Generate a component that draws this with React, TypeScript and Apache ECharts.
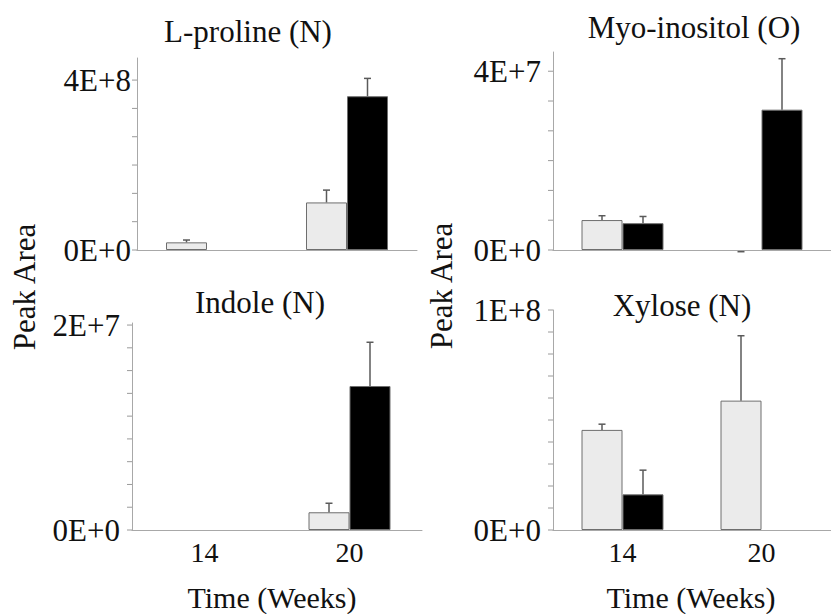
import React, { useEffect, useRef } from 'react';
import * as echarts from 'echarts';

// ---------- data ----------
const categories = ['14', '20'];
const panelTitles = ['L-proline (N)', 'Myo-inositol (O)', 'Indole (N)', 'Xylose (N)'];

// light (grey) series mean and error, dark (black) series mean and error
const prolineLight = [1.8e7, 1.12e8];
const prolineLightErr = [5.5e6, 2.9e7];
const prolineDark = [null, 3.62e8];
const prolineDarkErr = [null, 4.2e7];

const inositolLight = [6.7e6, null];
const inositolLightErr = [9.7e5, null];
const inositolLightZeroMark = [null, -3.8e5];
const inositolDark = [6.0e6, 3.14e7];
const inositolDarkErr = [1.5e6, 1.14e7];

const indoleLight = [null, 1.73e6];
const indoleLightErr = [null, 8.8e5];
const indoleDark = [null, 1.405e7];
const indoleDarkErr = [null, 4.27e6];

const xyloseLight = [4.55e7, 5.88e7];
const xyloseLightErr = [2.6e6, 2.95e7];
const xyloseDark = [1.62e7, null];
const xyloseDarkErr = [1.1e7, null];

const yMax = [4.52e8, 4.43e7, 2.02e7, 1e8];
const yMajorValues = [[0, 4e8], [0, 4e7], [0, 2e7], [0, 1e8]];
const yMajorLabels = [['0E+0', '4E+8'], ['0E+0', '4E+7'], ['0E+0', '2E+7'], ['0E+0', '1E+8']];
const yMinorCount = [6, 6, 9, 10];

const yAxisTitle = 'Peak Area';
const xAxisTitle = 'Time (Weeks)';

// ---------- layout ----------
const grids = [
  { left: 137, top: 58, width: 280, height: 192 },
  { left: 553, top: 52, width: 288, height: 198 },
  { left: 132, top: 323, width: 290, height: 207 },
  { left: 553, top: 310, width: 288, height: 220 },
];
const labelMargins = [6, 12, 12, 12];
const titlePos = [
  [248, 31],
  [694, 27],
  [260, 302],
  [682, 305],
];

const FONT = 'Liberation Serif';
const TEXT = '#111';
const AXIS = '#a8a8a8';
const TICK = '#9a9a9a';
const BAR_W = 41;

const panels = [
  { light: prolineLight, lightErr: prolineLightErr, dark: prolineDark, darkErr: prolineDarkErr, extraLight: null },
  { light: inositolLight, lightErr: inositolLightErr, dark: inositolDark, darkErr: inositolDarkErr, extraLight: inositolLightZeroMark },
  { light: indoleLight, lightErr: indoleLightErr, dark: indoleDark, darkErr: indoleDarkErr, extraLight: null },
  { light: xyloseLight, lightErr: xyloseLightErr, dark: xyloseDark, darkErr: xyloseDarkErr, extraLight: null },
];

function errData(vals: (number | null)[], errs: (number | null)[], extra: (number | null)[] | null) {
  const out: number[][] = [];
  vals.forEach((v, i) => {
    if (v !== null && errs[i] !== null) out.push([i, v, errs[i] as number]);
    else if (extra && extra[i] !== null) out.push([i, extra[i] as number, 0]);
  });
  return out;
}

function errSeries(idx: number, data: number[][], offset: number) {
  return {
    type: 'custom',
    xAxisIndex: idx,
    yAxisIndex: idx,
    z: 5,
    encode: { x: 0, y: 1 },
    data,
    renderItem: (_params: any, api: any) => {
      const cat = api.value(0);
      const v = api.value(1);
      const e = api.value(2);
      const base = api.coord([cat, v]);
      const top = api.coord([cat, v + e]);
      const x = base[0] + offset;
      const st = { stroke: '#5a5a5a', lineWidth: 1.5 };
      return {
        type: 'group',
        children: [
          { type: 'line', shape: { x1: x, y1: base[1], x2: x, y2: top[1] }, style: st },
          { type: 'line', shape: { x1: x - 3.5, y1: top[1], x2: x + 3.5, y2: top[1] }, style: st },
        ],
      };
    },
  };
}

function tickSeries(idx: number) {
  const step = yMajorValues[idx][1] / yMinorCount[idx];
  const data = Array.from({ length: yMinorCount[idx] + 1 }, (_, k) => [0, k * step]);
  return {
    type: 'custom',
    xAxisIndex: idx,
    yAxisIndex: idx,
    z: 6,
    silent: true,
    clip: false,
    encode: { x: 0, y: 1 },
    data,
    renderItem: (_params: any, api: any) => {
      const p = api.coord([0, api.value(1)]);
      const band = api.size([1, 0])[0];
      const x0 = p[0] - band / 2;
      return {
        type: 'line',
        shape: { x1: x0 - 5, y1: p[1], x2: x0, y2: p[1] },
        style: { stroke: TICK, lineWidth: 1 },
      };
    },
  };
}

export default function App() {
  const ref = useRef<HTMLDivElement>(null);
  useEffect(() => {
    if (!ref.current) return;
    const chart = echarts.init(ref.current, null, { renderer: 'svg' });

    const xAxis = grids.map((_, i) => ({
      type: 'category',
      gridIndex: i,
      data: categories,
      axisLine: { lineStyle: { color: AXIS, width: 1 } },
      axisTick: { show: false },
      axisLabel: {
        show: i >= 2,
        fontFamily: FONT,
        fontSize: 28,
        color: TEXT,
        margin: 8,
      },
    }));

    const yAxis = grids.map((_, i) => ({
      type: 'value',
      gridIndex: i,
      min: 0,
      max: yMax[i],
      splitLine: { show: false },
      axisLine: { show: true, lineStyle: { color: AXIS, width: 1 } },
      axisTick: { show: false },
      axisLabel: {
        customValues: yMajorValues[i],
        fontFamily: FONT,
        fontSize: 31,
        color: TEXT,
        margin: labelMargins[i],
        formatter: (val: number) => {
          const k = yMajorValues[i].findIndex((m) => Math.abs(m - val) < yMajorValues[i][1] * 1e-6);
          return k >= 0 ? yMajorLabels[i][k] : '';
        },
      },
    }));

    const series: any[] = [];
    panels.forEach((p, i) => {
      series.push({
        type: 'bar',
        xAxisIndex: i,
        yAxisIndex: i,
        data: p.light,
        barWidth: BAR_W,
        barGap: '0%',
        itemStyle: { color: '#ebebeb', borderColor: '#6e6e6e', borderWidth: 1 },
      });
      series.push({
        type: 'bar',
        xAxisIndex: i,
        yAxisIndex: i,
        data: p.dark,
        barWidth: BAR_W,
        barGap: '0%',
        itemStyle: { color: '#000000', borderColor: '#6e6e6e', borderWidth: 1 },
      });
      series.push(errSeries(i, errData(p.light, p.lightErr, p.extraLight), -BAR_W / 2));
      series.push(errSeries(i, errData(p.dark, p.darkErr, null), BAR_W / 2));
      series.push(tickSeries(i));
    });

    const textStyle = (s: string, size: number) => ({
      text: s,
      fill: TEXT,
      fontFamily: FONT,
      fontSize: size,
      align: 'center',
      verticalAlign: 'middle',
    });

    const graphic: any[] = [];
    panelTitles.forEach((t, i) => {
      graphic.push({ type: 'text', x: titlePos[i][0], y: titlePos[i][1], style: textStyle(t, 31) });
    });
    graphic.push({ type: 'text', x: 24, y: 287, rotation: Math.PI / 2, style: textStyle(yAxisTitle, 31) });
    graphic.push({ type: 'text', x: 441, y: 286, rotation: Math.PI / 2, style: textStyle(yAxisTitle, 31) });
    graphic.push({ type: 'text', x: 272, y: 597, style: textStyle(xAxisTitle, 30) });
    graphic.push({ type: 'text', x: 691, y: 597, style: textStyle(xAxisTitle, 30) });

    chart.setOption({
      animation: false,
      backgroundColor: '#ffffff',
      grid: grids.map((g) => ({ ...g, containLabel: false })),
      xAxis,
      yAxis,
      series,
      graphic,
    });
    return () => chart.dispose();
  }, []);

  return (
    <div
      ref={ref}
      style={{ position: 'absolute', left: 0, top: 0, width: 831, height: 614, background: '#fff' }}
    />
  );
}
